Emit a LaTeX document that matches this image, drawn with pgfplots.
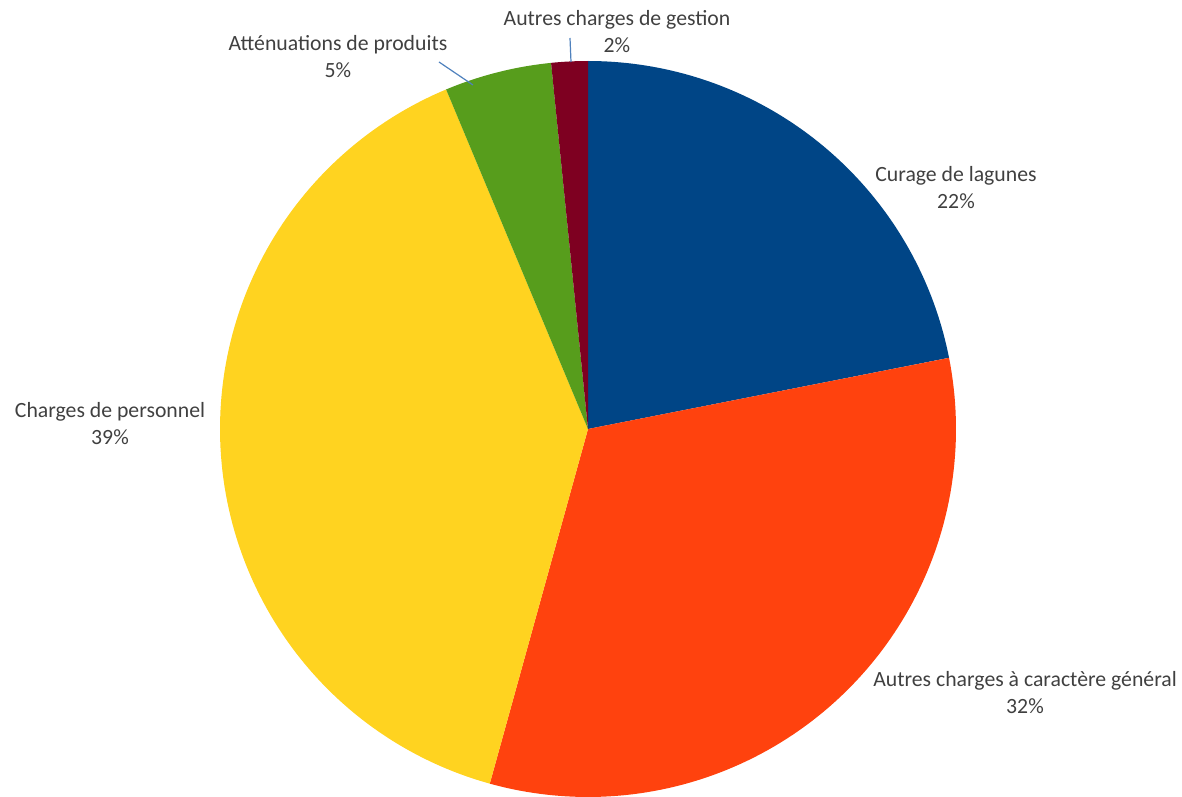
\documentclass[border=0pt]{standalone}
\usepackage{pgfplots}
\usepackage{pgfplotstable}
\pgfplotsset{compat=1.18}
\usepackage{fontspec}
\setmainfont{Carlito}
\definecolor{cA}{RGB}{0,69,134}
\definecolor{cB}{RGB}{255,66,14}
\definecolor{cC}{RGB}{255,211,32}
\definecolor{cD}{RGB}{87,157,28}
\definecolor{cE}{RGB}{126,0,33}
\definecolor{txt}{RGB}{64,64,64}
\definecolor{lead}{RGB}{79,129,189}
\pgfplotstableread{
label value
Curage 21.9
Generales 32.4
Personnel 39.4
Attenuations 4.7
Gestion 1.6
}\piedata
\tikzset{lbl/.style={font=\fontsize{16.3}{20.3}\selectfont, text=txt, align=center, inner sep=0pt}}
\pgfplotstablegetelem{0}{value}\of\piedata \let\vA\pgfplotsretval
\pgfplotstablegetelem{1}{value}\of\piedata \let\vB\pgfplotsretval
\pgfplotstablegetelem{2}{value}\of\piedata \let\vC\pgfplotsretval
\pgfplotstablegetelem{3}{value}\of\piedata \let\vD\pgfplotsretval
\pgfplotstablegetelem{4}{value}\of\piedata \let\vE\pgfplotsretval
\pgfmathsetmacro{\tot}{\vA+\vB+\vC+\vD+\vE}
\pgfmathsetmacro{\aA}{90}
\pgfmathsetmacro{\aB}{\aA-360*\vA/\tot}
\pgfmathsetmacro{\aC}{\aB-360*\vB/\tot}
\pgfmathsetmacro{\aD}{\aC-360*\vC/\tot}
\pgfmathsetmacro{\aE}{\aD-360*\vD/\tot}
\pgfmathsetmacro{\aF}{\aE-360*\vE/\tot}
\begin{document}%
\begin{tikzpicture}
\begin{axis}[
  scale only axis, width=886.5pt, height=597pt,
  xmin=0, xmax=1182, ymin=0, ymax=796,
  hide axis, clip=false,
]
\def\cx{588}\def\cy{367}\def\R{368}
\path (axis cs:0,0) rectangle (axis cs:1182,796);
\addplot[fill=cA, draw=none, domain=\aB:\aA, samples=80, variable=\t] ({\cx+\R*cos(\t)},{\cy+\R*sin(\t)}) -- (axis cs:\cx,\cy) -- cycle;
\addplot[fill=cB, draw=none, domain=\aC:\aB, samples=100, variable=\t] ({\cx+\R*cos(\t)},{\cy+\R*sin(\t)}) -- (axis cs:\cx,\cy) -- cycle;
\addplot[fill=cC, draw=none, domain=\aD:\aC, samples=120, variable=\t] ({\cx+\R*cos(\t)},{\cy+\R*sin(\t)}) -- (axis cs:\cx,\cy) -- cycle;
\addplot[fill=cD, draw=none, domain=\aE:\aD, samples=20, variable=\t] ({\cx+\R*cos(\t)},{\cy+\R*sin(\t)}) -- (axis cs:\cx,\cy) -- cycle;
\addplot[fill=cE, draw=none, domain=\aF:\aE, samples=10, variable=\t] ({\cx+\R*cos(\t)},{\cy+\R*sin(\t)}) -- (axis cs:\cx,\cy) -- cycle;
\draw[lead, line width=0.9pt] (axis cs:473,711) -- (axis cs:439,734);
\draw[lead, line width=0.9pt] (axis cs:571,734) -- (axis cs:570,758);
\node[lbl] at (axis cs:956,608) {Curage de lagunes\\22\%};
\node[lbl] at (axis cs:1025,103) {Autres charges à caractère général\\32\%};
\node[lbl] at (axis cs:110,372) {Charges de personnel\\39\%};
\node[lbl] at (axis cs:338,739) {Atténuations de produits\\5\%};
\node[lbl] at (axis cs:617,764) {Autres charges de gestion\\2\%};
\end{axis}
\end{tikzpicture}%
\end{document}
